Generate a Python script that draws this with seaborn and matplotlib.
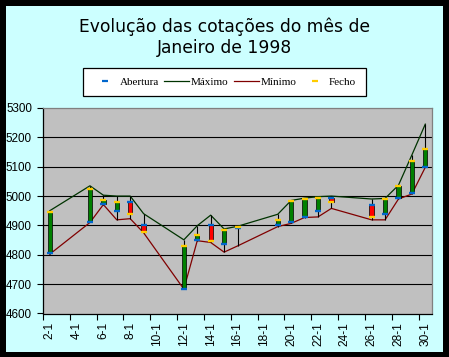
import numpy as np
import pandas as pd
import matplotlib
matplotlib.use("Agg")
import matplotlib.pyplot as plt
from matplotlib.patches import Rectangle
from matplotlib.lines import Line2D
import seaborn as sns

# ---- data (January 1998) ----
all_days = list(range(2, 31))                       # category axis 2-1 .. 30-1
trade_days = [2, 5, 6, 7, 8, 9, 12, 13, 14, 15, 16, 19, 20, 21, 22, 23, 26, 27, 28, 29, 30]
abertura = [4805, 4913, 4974, 4949, 4981, 4902, 4683, 4852, 4903, 4836, 4891,
            4900, 4910, 4930, 4949, 4994, 4971, 4940, 4994, 5010, 5100]
maximo = [4950, 5035, 5003, 5000, 5000, 4940, 4851, 4899, 4935, 4888, 4897,
          4938, 4985, 4993, 4998, 5000, 4990, 4992, 5037, 5140, 5245]
minimo = [4802, 4910, 4971, 4919, 4923, 4875, 4683, 4848, 4842, 4809, 4830,
          4896, 4907, 4927, 4929, 4958, 4919, 4919, 4990, 5007, 5098]
fecho = [4947, 5025, 4986, 4981, 4940, 4879, 4831, 4869, 4848, 4886, 4896,
         4920, 4983, 4990, 4994, 4981, 4930, 4991, 5034, 5118, 5159]
tick_labels = [f"{d}-1" for d in all_days[::2]]
y_ticks = [4600, 4700, 4800, 4900, 5000, 5100, 5200, 5300]

df = pd.DataFrame({"dia": trade_days, "Abertura": abertura, "Máximo": maximo,
                   "Mínimo": minimo, "Fecho": fecho})
df["x"] = df["dia"] - all_days[0]

# ---- colours ----
C_BG = "#CCFFFF"
C_PLOT = "#C0C0C0"
C_MAX = "#003300"
C_MIN = "#800000"
C_OPEN = "#0066CC"
C_CLOSE = "#FFCC00"
C_UP = "#008000"
C_DOWN = "#FF0000"

fig = plt.figure(figsize=(4.49, 3.57), dpi=100, facecolor="black")
fig.patches.append(Rectangle((6 / 449, 1 - 352 / 357), (443 - 6) / 449, (352 - 6) / 357,
                             transform=fig.transFigure, facecolor=C_BG, edgecolor="none",
                             zorder=-5))

ax = fig.add_axes([43 / 449, 1 - 313.5 / 357, (432 - 43) / 449, (313.5 - 108) / 357])
ax.set_zorder(2)
ax.set_facecolor(C_PLOT)

# gridlines (inner ones only)
for v in y_ticks[1:-1]:
    ax.axhline(v, color="black", lw=0.8, zorder=1)

# high / low lines
sns.lineplot(data=df, x="x", y="Máximo", color=C_MAX, lw=0.9, estimator=None,
             ax=ax, zorder=2, legend=False)
sns.lineplot(data=df, x="x", y="Mínimo", color=C_MIN, lw=0.9, estimator=None,
             ax=ax, zorder=2, legend=False)

# high-low vertical lines
ax.vlines(df["x"], df["Mínimo"], df["Máximo"], color="black", lw=0.8, zorder=3)

# up/down bars
up = df["Fecho"] >= df["Abertura"]
ax.bar(df["x"], df["Fecho"] - df["Abertura"], bottom=df["Abertura"], width=0.32,
       color=np.where(up, C_UP, C_DOWN), edgecolor="black", lw=0.5, zorder=4)

# open / close markers
sns.scatterplot(data=df, x="x", y="Abertura", marker="_", color=C_OPEN, s=24,
                linewidth=1.7, ax=ax, zorder=5, legend=False)
sns.scatterplot(data=df, x="x", y="Fecho", marker="_", color=C_CLOSE, s=24,
                linewidth=1.7, ax=ax, zorder=5, legend=False)

# axes styling
ax.set_xlim(-0.5, len(all_days) - 0.5)
ax.set_ylim(y_ticks[0], y_ticks[-1])
ax.set_yticks(y_ticks)
ax.set_yticklabels([str(v) for v in y_ticks], fontsize=8.4, family="Liberation Sans")
ax.set_xticks(np.arange(-0.5, len(all_days) - 1, 2))
ax.set_xticklabels([])
ax.set_xticks(np.arange(0, len(all_days), 2), minor=True)
ax.set_xticklabels(tick_labels, minor=True, rotation=90, fontsize=8.6,
                   family="Liberation Sans")
ax.tick_params(axis="x", which="major", length=4, width=0.8, color="black", direction="out")
ax.tick_params(axis="x", which="minor", length=0, pad=6)
ax.tick_params(axis="y", length=4, width=0.8, color="black", pad=4)
ax.set_xlabel("")
ax.set_ylabel("")
for s in ["left", "bottom"]:
    ax.spines[s].set_color("black")
    ax.spines[s].set_linewidth(0.9)
for s in ["top", "right"]:
    ax.spines[s].set_color("#808080")
    ax.spines[s].set_linewidth(0.9)

# title
fig.text(0.499, 1 - 17 / 357, "Evolução das cotações do mês de\nJaneiro de 1998",
         ha="center", va="top", fontsize=12.3, family="DejaVu Sans", linespacing=1.25)

# legend
handles = [
    Line2D([], [], ls="none", marker="_", color=C_OPEN, ms=4.5, mew=1.6),
    Line2D([], [], color=C_MAX, lw=0.9),
    Line2D([], [], color=C_MIN, lw=0.9),
    Line2D([], [], ls="none", marker="_", color=C_CLOSE, ms=4.5, mew=1.6),
]
leg = fig.legend(handles, ["Abertura", "Máximo", "Mínimo", "Fecho"], ncol=4,
                 loc="center", bbox_to_anchor=(224.5 / 449, 1 - 82 / 357),
                 prop={"family": "Liberation Serif", "size": 8}, frameon=True,
                 fancybox=False, edgecolor="black", facecolor="white", framealpha=1,
                 handlelength=2.2, handletextpad=0.2, columnspacing=0.5,
                 borderpad=0.85)
leg.get_frame().set_linewidth(0.9)

fig.savefig("out.png", dpi=100, facecolor=fig.get_facecolor())
